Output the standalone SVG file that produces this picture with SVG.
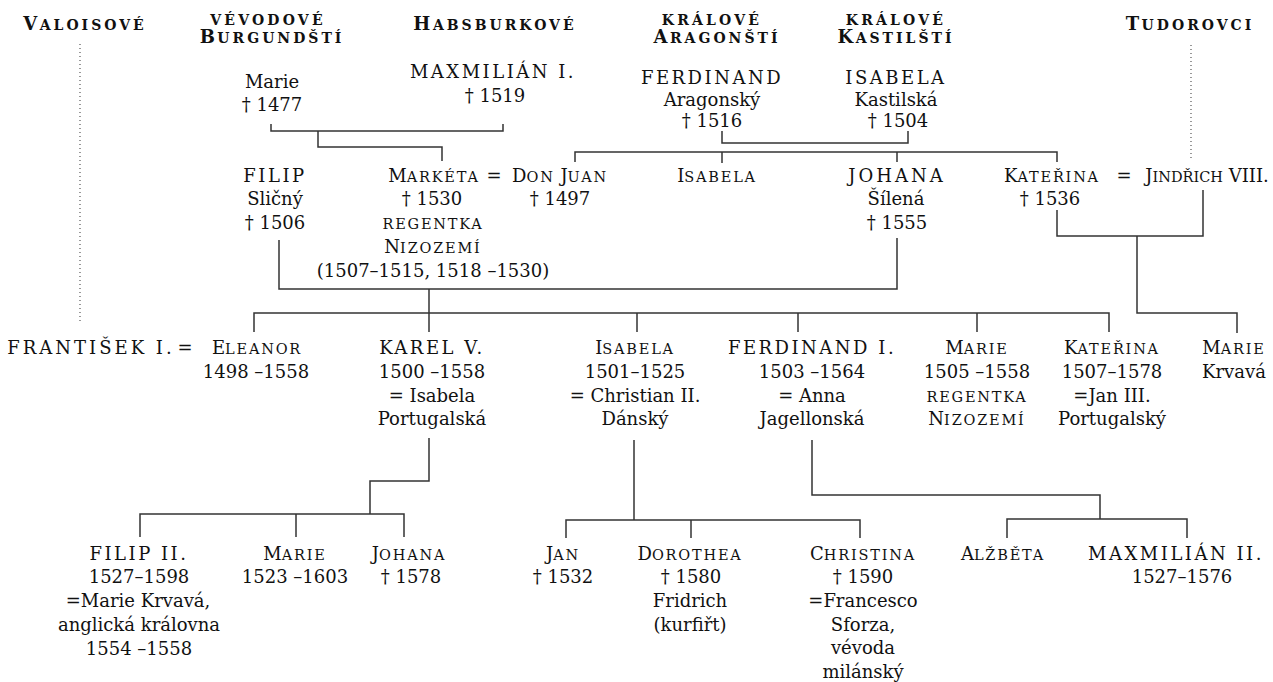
<svg xmlns="http://www.w3.org/2000/svg" width="1273" height="682" viewBox="0 0 1273 682">
<style>
text { font-family: "DejaVu Serif", "Liberation Serif", serif; font-size: 18px; fill: #111; text-anchor: middle; }
.c { letter-spacing: 2.5px; }
.s { font-size: 14.5px; letter-spacing: 1.8px; }
.h { font-weight: bold; font-size: 18px; letter-spacing: 2.5px; }
.h .s { font-size: 14px; letter-spacing: 3px; }
.hs { font-weight: bold; font-size: 14px; letter-spacing: 3.2px; }
.ln path { fill: none; stroke: #333; stroke-width: 1.5; }
.dot { fill: none; stroke: #555; stroke-width: 1.2; stroke-dasharray: 1 3; }
</style>
<rect width="1273" height="682" fill="#fff"/>

<g id="headings">
  <text class="h" x="85" y="30">V<tspan class="s">ALOISOVÉ</tspan></text>
  <text class="hs" x="268" y="25">VÉVODOVÉ</text>
  <text class="h" x="272" y="43">B<tspan class="s">URGUNDŠTÍ</tspan></text>
  <text class="h" x="495" y="30">H<tspan class="s">ABSBURKOVÉ</tspan></text>
  <text class="hs" x="712" y="25">KRÁLOVÉ</text>
  <text class="h" x="717" y="43">A<tspan class="s">RAGONŠTÍ</tspan></text>
  <text class="hs" x="896" y="25">KRÁLOVÉ</text>
  <text class="h" x="896" y="43">K<tspan class="s">ASTILŠTÍ</tspan></text>
  <text class="h" x="1190" y="30">T<tspan class="s">UDOROVCI</tspan></text>
</g>

<g id="connectors">
  <path class="dot" d="M80,44 V324"/>
  <path class="dot" d="M1191,45 V160"/>
  <g class="ln">
    <path d="M271,124 V131 H503 V124"/>
    <path d="M318,131 V147 H442 V161"/>
    <path d="M722,131 V143 H908 V131"/>
    <path d="M575,162 V152 H1057 V162"/>
    <path d="M722,152 V163"/>
    <path d="M897,152 V162"/>
    <path d="M279,240 V289 H897 V238"/>
    <path d="M429,289 V332"/>
    <path d="M254,332 V313 H1109 V332"/>
    <path d="M637,313 V332"/>
    <path d="M798,313 V332"/>
    <path d="M977,313 V332"/>
    <path d="M1057,210 V236 H1203 V190"/>
    <path d="M1137,236 V313 H1237 V333"/>
    <path d="M429,438 V481 H370 V514"/>
    <path d="M140,537 V514 H404 V537"/>
    <path d="M296,514 V537"/>
    <path d="M634,440 V520"/>
    <path d="M566,538 V520 H860 V538"/>
    <path d="M691,520 V538"/>
    <path d="M812,440 V495 H1100 V519"/>
    <path d="M1007,538 V519 H1187 V538"/>
  </g>
</g>

<g id="marie-burgundska">
  <text x="272" y="88">Marie</text>
  <text x="272" y="111">† 1477</text>
</g>
<g id="maxmilian-1">
  <text class="c" x="493" y="78">MAXMILIÁN I.</text>
  <text x="495" y="102">† 1519</text>
</g>
<g id="ferdinand-aragonsky">
  <text class="c" x="712" y="84">FERDINAND</text>
  <text x="712" y="106">Aragonský</text>
  <text x="712" y="127">† 1516</text>
</g>
<g id="isabela-kastilska">
  <text class="c" x="896" y="84">ISABELA</text>
  <text x="896" y="106">Kastilská</text>
  <text x="898" y="127">† 1504</text>
</g>

<g id="filip-slicny">
  <text class="c" x="275" y="182">FILIP</text>
  <text x="275" y="205">Sličný</text>
  <text x="275" y="229">† 1506</text>
</g>
<g id="marketa">
  <text x="434" y="182">M<tspan class="s">ARKÉTA</tspan></text>
  <text x="432" y="205">† 1530</text>
  <text class="s" x="433" y="229">REGENTKA</text>
  <text x="433" y="253">N<tspan class="s">IZOZEMÍ</tspan></text>
  <text x="433" y="277">(1507–1515, 1518 –1530)</text>
</g>
<g id="marriage-marketa">
  <text x="494" y="182">=</text>
</g>
<g id="don-juan">
  <text x="560" y="182">D<tspan class="s">ON</tspan> J<tspan class="s">UAN</tspan></text>
  <text x="560" y="205">† 1497</text>
</g>
<g id="isabela-2">
  <text x="717" y="182">I<tspan class="s">SABELA</tspan></text>
</g>
<g id="johana">
  <text x="897" y="182" style="letter-spacing:3px">JOHANA</text>
  <text x="896" y="205">Šílená</text>
  <text x="897" y="229">† 1555</text>
</g>
<g id="katerina-aragonska">
  <text x="1052" y="182">K<tspan class="s">ATEŘINA</tspan></text>
  <text x="1050" y="205">† 1536</text>
</g>
<g id="marriage-katerina">
  <text x="1124" y="182">=</text>
</g>
<g id="jindrich-8">
  <text x="1207" y="182">J<tspan class="s" style="letter-spacing:0px">INDŘICH</tspan> VIII.</text>
</g>

<g id="frantisek-1">
  <text x="91" y="354" style="letter-spacing:3px">FRANTIŠEK I.</text>
</g>
<g id="marriage-eleanor">
  <text x="185" y="354">=</text>
</g>
<g id="eleanor">
  <text x="257" y="354">E<tspan class="s">LEANOR</tspan></text>
  <text x="256" y="378">1498 –1558</text>
</g>
<g id="karel-5">
  <text class="c" x="432" y="354">KAREL V.</text>
  <text x="432" y="378">1500 –1558</text>
  <text x="432" y="402">= Isabela</text>
  <text x="432" y="425">Portugalská</text>
</g>
<g id="isabela-3">
  <text x="635" y="354">I<tspan class="s">SABELA</tspan></text>
  <text x="635" y="378">1501–1525</text>
  <text x="635" y="402">= Christian II.</text>
  <text x="635" y="425">Dánský</text>
</g>
<g id="ferdinand-1">
  <text class="c" x="812" y="354">FERDINAND I.</text>
  <text x="812" y="378">1503 –1564</text>
  <text x="812" y="402">= Anna</text>
  <text x="812" y="425">Jagellonská</text>
</g>
<g id="marie-uherska">
  <text x="977" y="354">M<tspan class="s">ARIE</tspan></text>
  <text x="977" y="378">1505 –1558</text>
  <text class="s" x="977" y="402">REGENTKA</text>
  <text x="977" y="425">N<tspan class="s">IZOZEMÍ</tspan></text>
</g>
<g id="katerina-2">
  <text x="1112" y="354">K<tspan class="s">ATEŘINA</tspan></text>
  <text x="1112" y="378">1507–1578</text>
  <text x="1112" y="402">=Jan III.</text>
  <text x="1112" y="425">Portugalský</text>
</g>
<g id="marie-krvava">
  <text x="1234" y="354">M<tspan class="s">ARIE</tspan></text>
  <text x="1234" y="378">Krvavá</text>
</g>

<g id="filip-2">
  <text class="c" x="139" y="560">FILIP II.</text>
  <text x="139" y="583">1527–1598</text>
  <text x="138" y="607">=Marie Krvavá,</text>
  <text x="139" y="631">anglická královna</text>
  <text x="139" y="655">1554 –1558</text>
</g>
<g id="marie-3">
  <text x="295" y="560">M<tspan class="s">ARIE</tspan></text>
  <text x="295" y="583">1523 –1603</text>
</g>
<g id="johana-2">
  <text x="409" y="560">J<tspan class="s">OHANA</tspan></text>
  <text x="411" y="583">† 1578</text>
</g>
<g id="jan">
  <text x="563" y="560">J<tspan class="s">AN</tspan></text>
  <text x="563" y="583">† 1532</text>
</g>
<g id="dorothea">
  <text x="690" y="560">D<tspan class="s">OROTHEA</tspan></text>
  <text x="691" y="583">† 1580</text>
  <text x="690" y="607">Fridrich</text>
  <text x="690" y="631">(kurfiřt)</text>
</g>
<g id="christina">
  <text x="863" y="560">C<tspan class="s">HRISTINA</tspan></text>
  <text x="863" y="583">† 1590</text>
  <text x="863" y="607">=Francesco</text>
  <text x="863" y="631">Sforza,</text>
  <text x="863" y="654">vévoda</text>
  <text x="863" y="678">milánský</text>
</g>
<g id="alzbeta">
  <text x="1003" y="560">A<tspan class="s">LŽBĚTA</tspan></text>
</g>
<g id="maxmilian-2">
  <text class="c" x="1176" y="560">MAXMILIÁN II.</text>
  <text x="1182" y="583">1527–1576</text>
</g>
</svg>
